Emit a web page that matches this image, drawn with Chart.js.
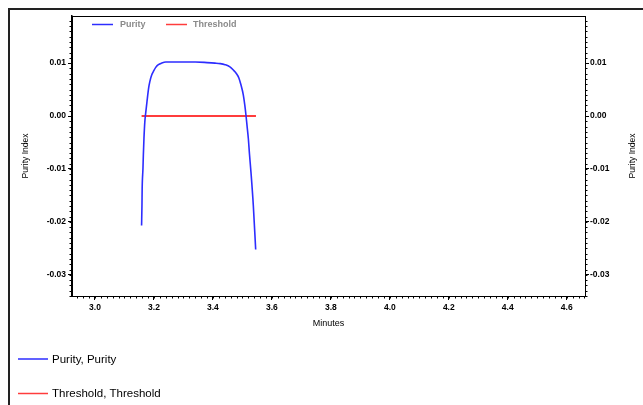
<!DOCTYPE html>
<html>
<head>
<meta charset="utf-8">
<script src="https://cdn.jsdelivr.net/npm/chart.js@4"></script>
<style>
  body { margin: 0; background: #fff; }
  #wrap { width: 643px; height: 405px; position: relative; }
</style>
</head>
<body>
<div id="wrap"><canvas id="purityChart" width="643" height="405"></canvas></div>
<script>
// ---- data ----
const purityMinutes = [3.158, 3.1593, 3.160, 3.1627, 3.164, 3.1661, 3.169, 3.172, 3.1763, 3.182, 3.186, 3.192, 3.198,
  3.206, 3.215, 3.226, 3.240, 3.26, 3.30, 3.34, 3.38, 3.407, 3.425, 3.441, 3.4576, 3.469, 3.480, 3.488, 3.495,
  3.503, 3.508, 3.512, 3.516, 3.520, 3.524, 3.529, 3.537, 3.545];
const purityValues = [-0.0207, -0.0169, -0.0137, -0.0099, -0.0074, -0.0042, -0.0011, 0.0006, 0.0027, 0.0053, 0.0065, 0.0077, 0.0084,
  0.0092, 0.0097, 0.0100, 0.0102, 0.0102, 0.0102, 0.0102, 0.0101, 0.0100, 0.0099, 0.0097, 0.0093, 0.0087, 0.0080, 0.0072, 0.0059,
  0.0040, 0.0021, 0.0002, -0.0020, -0.0042, -0.0072, -0.0106, -0.0169, -0.0252];
const thresholdMinutes = [3.158, 3.546];
const thresholdValues = [0.0, 0.0];

const xTicks = [3.0, 3.2, 3.4, 3.6, 3.8, 4.0, 4.2, 4.4, 4.6];
const yTicks = [-0.03, -0.02, -0.01, 0.00, 0.01];
const xRange = [2.922, 4.662];
const yRange = [-0.034, 0.0189];

const FONT = "'Liberation Sans', Arial, sans-serif";

const toPoints = (xs, ys) => xs.map((x, i) => ({ x: x, y: ys[i] }));

/* ================= DECORATION PLUGIN ================= */
const decor = {
  id: "decor",
  afterDraw(chart) {
    const { ctx, chartArea: a } = chart;
    const sx = chart.scales.x, sy = chart.scales.y;
    ctx.save();

    // outer frame
    ctx.strokeStyle = "#222";
    ctx.lineWidth = 2;
    ctx.beginPath();
    ctx.moveTo(9, 405); ctx.lineTo(9, 9); ctx.lineTo(643, 9);
    ctx.stroke();

    // plot box
    ctx.strokeStyle = "#000";
    ctx.lineWidth = 1;
    ctx.strokeRect(a.left + 0.5, a.top + 0.5, a.right - a.left, a.bottom - a.top);

    // minor ticks
    ctx.beginPath();
    for (let i = -34; i <= 18; i++) {
      const py = Math.round(sy.getPixelForValue(i / 1000)) + 0.5;
      ctx.moveTo(a.left, py); ctx.lineTo(a.left - 2.5, py);
      ctx.moveTo(a.right, py); ctx.lineTo(a.right + 2.5, py);
    }
    for (let i = 147; i <= 233; i++) {
      const px = Math.round(sx.getPixelForValue(i * 0.02)) + 0.5;
      ctx.moveTo(px, a.bottom); ctx.lineTo(px, a.bottom + 2.5);
    }
    ctx.stroke();

    // right axis title
    ctx.fillStyle = "#000";
    ctx.font = "8.5px " + FONT;
    ctx.textAlign = "center";
    ctx.textBaseline = "middle";
    ctx.translate(633, (a.top + a.bottom) / 2);
    ctx.rotate(-Math.PI / 2);
    ctx.fillText("Purity Index", 0, 0);
    ctx.setTransform(1, 0, 0, 1, 0, 0);

    const ds = chart.data.datasets;

    // top legend (inside plot)
    ctx.font = "bold 9px " + FONT;
    ctx.textAlign = "left";
    const topItems = [{ x0: 92, tx: 120 }, { x0: 166, tx: 193 }];
    ds.forEach((d, i) => {
      const it = topItems[i];
      ctx.strokeStyle = d.borderColor;
      ctx.lineWidth = 1.5;
      ctx.beginPath(); ctx.moveTo(it.x0, 24.5); ctx.lineTo(it.x0 + 21, 24.5); ctx.stroke();
      ctx.fillStyle = "#8a8a8a";
      ctx.fillText(d.label, it.tx, 25);
    });

    // bottom legend
    ctx.font = "11.5px " + FONT;
    const rows = [359, 393.5];
    ds.forEach((d, i) => {
      ctx.strokeStyle = d.borderColor;
      ctx.lineWidth = 1.5;
      ctx.beginPath(); ctx.moveTo(18, rows[i]); ctx.lineTo(48, rows[i]); ctx.stroke();
      ctx.fillStyle = "#000";
      ctx.fillText(d.label + ", " + d.label, 52, rows[i] + 0.5);
    });

    ctx.restore();
  }
};

const tickFont = { family: FONT, size: 8.5, weight: "bold" };
const axisGrid = { display: true, drawOnChartArea: false, drawTicks: true, tickLength: 4, tickColor: "#000", tickWidth: 1 };

new Chart(document.getElementById("purityChart"), {
  type: "line",
  data: {
    datasets: [
      {
        label: "Purity",
        data: toPoints(purityMinutes, purityValues),
        borderColor: "rgb(45,45,255)",
        borderWidth: 1.6,
        pointRadius: 0,
        cubicInterpolationMode: "monotone",
        fill: false
      },
      {
        label: "Threshold",
        data: toPoints(thresholdMinutes, thresholdValues),
        borderColor: "rgb(255,60,60)",
        borderWidth: 2,
        pointRadius: 0,
        fill: false
      }
    ]
  },
  options: {
    responsive: false,
    animation: false,
    layout: { padding: { top: 16, left: 0, right: 0, bottom: 0 } },
    plugins: { legend: { display: false }, tooltip: { enabled: false } },
    scales: {
      x: {
        type: "linear",
        min: xRange[0],
        max: xRange[1],
        afterBuildTicks: (s) => { s.ticks = xTicks.map(v => ({ value: v })); },
        afterFit: (s) => { s.height = 109; },
        ticks: { color: "#000", font: tickFont, padding: 3, maxRotation: 0, autoSkip: false,
          callback: (v) => Number(v).toFixed(1) },
        grid: axisGrid,
        border: { display: true, color: "#000", width: 1 },
        title: { display: true, text: "Minutes", color: "#000", font: { family: FONT, size: 9 },
          padding: { top: 0, bottom: 76 } }
      },
      y: {
        type: "linear",
        position: "left",
        min: yRange[0],
        max: yRange[1],
        afterBuildTicks: (s) => { s.ticks = yTicks.map(v => ({ value: v })); },
        afterFit: (s) => { s.width = 72; },
        ticks: { color: "#000", font: tickFont, padding: 2, autoSkip: false,
          callback: (v) => Number(v).toFixed(2) },
        grid: axisGrid,
        border: { display: true, color: "#000", width: 1.5 },
        title: { display: true, text: "Purity Index", color: "#000", font: { family: FONT, size: 8.5 },
          padding: { top: 21, bottom: 0 } }
      },
      y2: {
        type: "linear",
        position: "right",
        min: yRange[0],
        max: yRange[1],
        afterBuildTicks: (s) => { s.ticks = yTicks.map(v => ({ value: v })); },
        afterFit: (s) => { s.width = 58; },
        ticks: { color: "#000", font: tickFont, padding: 1, autoSkip: false,
          callback: (v) => Number(v).toFixed(2) },
        grid: axisGrid,
        border: { display: true, color: "#000", width: 1 }
      }
    }
  },
  plugins: [decor]
});
</script>
</body>
</html>
